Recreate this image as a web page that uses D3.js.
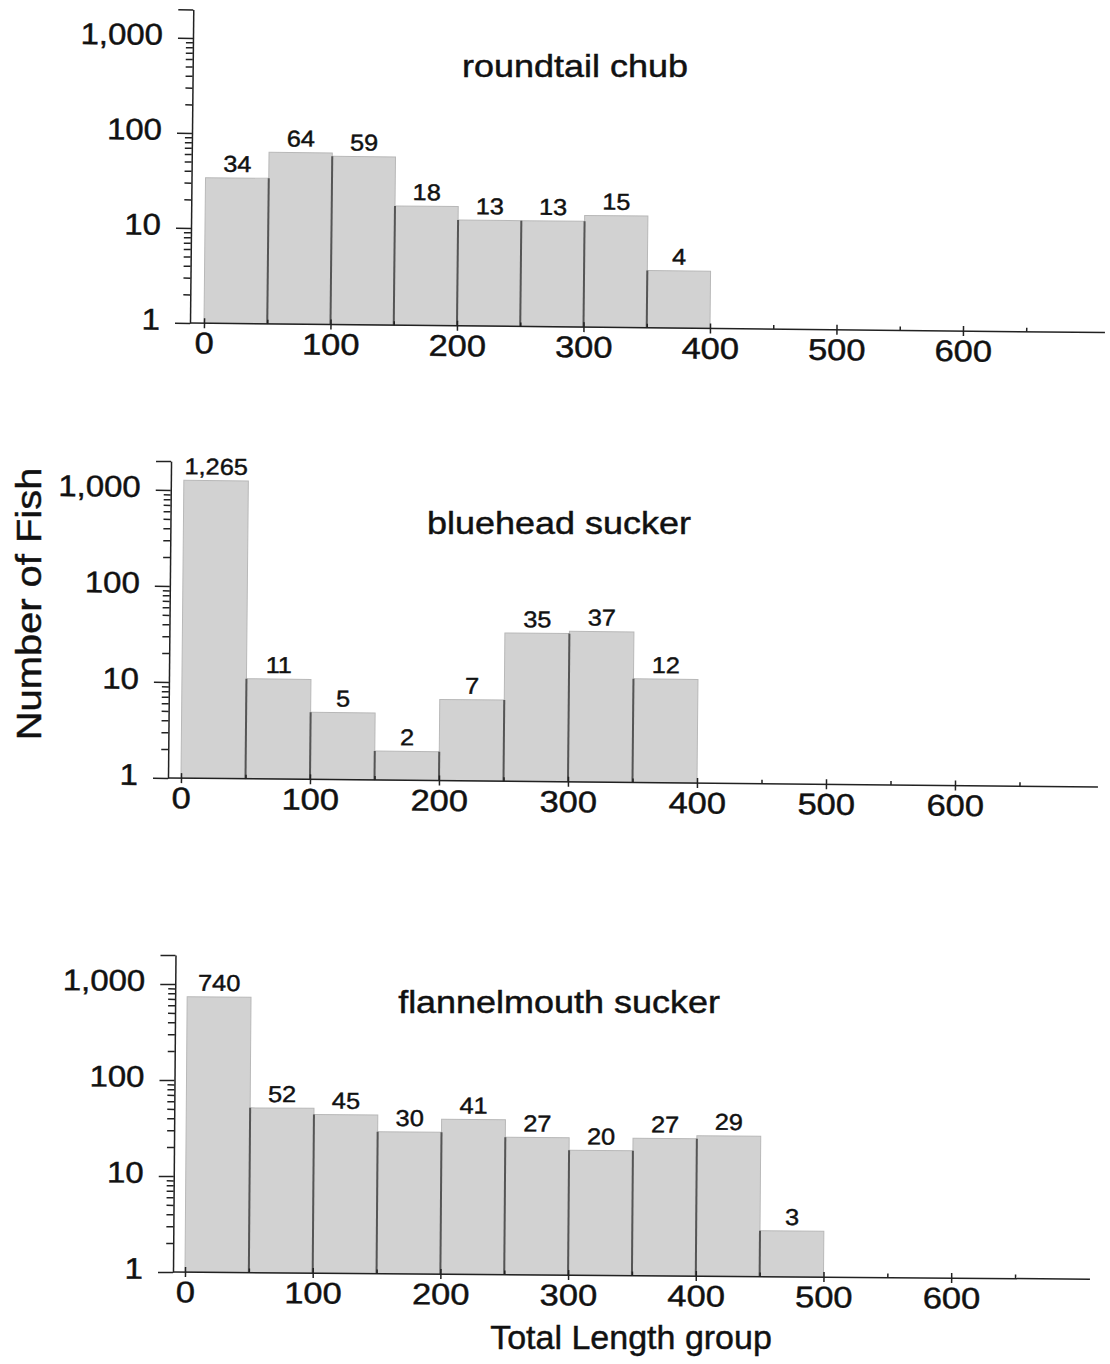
<!DOCTYPE html>
<head>
<meta charset="utf-8">
<style>
body {
  margin: 0;
  background: #fff;
}
svg text {
  font-family: "Liberation Sans", Arial, Helvetica, sans-serif;
  fill: #111;
  stroke: #111;
  stroke-width: 0.45px;
}
.bar {
  fill: #d2d2d2;
  stroke: #b8b8b8;
  stroke-width: 1;
}
.edge {
  stroke: #555;
  stroke-width: 2;
}
.axis {
  color: #222;
}
.axis line, .baseline {
  stroke: #222;
  stroke-width: 1.5;
}
.axis text {
  font-size: 30px;
}
.value {
  font-size: 23px;
}
.title {
  font-size: 31px;
}
.axtitle {
  font-size: 34px;
}
</style>
</head>
<body>
<svg id="chart" width="1110" height="1364"></svg>
<script src="https://d3js.org/d3.v7.min.js"></script>
<script>
// length groups (lower edge of each 50 mm bin)
var lengthGroups = [0, 50, 100, 150, 200, 250, 300, 350, 400, 450];
var binWidth = 50;

var species = ["roundtail chub", "bluehead sucker", "flannelmouth sucker"];
var roundtailCounts = [34, 64, 59, 18, 13, 13, 15, 4];
var blueheadCounts = [1265, 11, 5, 2, 7, 35, 37, 12];
var flannelmouthCounts = [740, 52, 45, 30, 41, 27, 20, 27, 29, 3];

var yTicks = [1, 10, 100, 1000];
var yTop = 2000;
var xTicks = [0, 100, 200, 300, 400, 500, 600];
var xMinorTicks = [50, 150, 250, 350, 450, 550, 650];
var xMax = 700;

// where each panel sits on the page (scan is a bit tilted)
var panels = [
  {name: species[0], counts: roundtailCounts, axisX: 190, x0: 204, k: 1.265, xEnd: 1105, base: 323, decade: 95, tilt: 0.6, titleX: 575, titleY: 77},
  {name: species[1], counts: blueheadCounts, axisX: 168, x0: 181, k: 1.29, xEnd: 1098, base: 778, decade: 96, tilt: 0.55, titleX: 559, titleY: 534},
  {name: species[2], counts: flannelmouthCounts, axisX: 173, x0: 185, k: 1.277, xEnd: 1090, base: 1272, decade: 96, tilt: 0.45, titleX: 559, titleY: 1013}
];

var svg = d3.select("#chart");
var fmt = d3.format(",");

panels.forEach(function(p) {
  var x = d3.scaleLinear()
    .domain([0, xMax])
    .range([p.x0, p.x0 + xMax * p.k]);

  var y = d3.scaleLog()
    .domain([1, yTop])
    .range([p.base, p.base - p.decade * Math.log10(yTop)]);

  var g = svg.append("g")
    .attr("transform", "rotate(" + p.tilt + "," + p.axisX + "," + p.base + ")");

  var bins = p.counts.map(function(c, i) { return {lo: lengthGroups[i], n: c}; });

  // bars
  g.selectAll(".bar").data(bins).enter().append("rect")
    .attr("class", "bar")
    .attr("x", function(d) { return x(d.lo); })
    .attr("width", function(d) { return x(d.lo + binWidth) - x(d.lo); })
    .attr("y", function(d) { return y(d.n); })
    .attr("height", function(d) { return y(1) - y(d.n); });

  // darker shared edges between neighbouring bars
  g.selectAll(".edge").data(bins.slice(1)).enter().append("line")
    .attr("class", "edge")
    .attr("x1", function(d) { return x(d.lo); })
    .attr("x2", function(d) { return x(d.lo); })
    .attr("y1", y(1))
    .attr("y2", function(d, i) { return y(Math.min(d.n, bins[i].n)); });

  // count labels
  g.selectAll(".value").data(bins).enter().append("text")
    .attr("class", "value")
    .attr("text-anchor", "middle")
    .attr("transform", function(d) {
      return "translate(" + x(d.lo + binWidth / 2) + "," + (y(d.n) - 6) + ") scale(1.1,1)";
    })
    .text(function(d) { return fmt(d.n); });

  // x axis
  g.append("line")
    .attr("class", "baseline")
    .attr("x1", p.axisX).attr("x2", p.xEnd)
    .attr("y1", y(1)).attr("y2", y(1));

  var xa = g.append("g")
    .attr("class", "axis")
    .attr("transform", "translate(0," + y(1) + ")")
    .call(d3.axisBottom(x).tickValues(xTicks).tickSize(5).tickSizeOuter(0).tickPadding(4));
  xa.select(".domain").remove();
  xa.selectAll(".tick line").attr("y1", -5);
  xa.selectAll(".tick text").attr("transform", "scale(1.15,1)");

  var xm = g.append("g")
    .attr("class", "axis")
    .attr("transform", "translate(0," + y(1) + ")")
    .call(d3.axisBottom(x).tickValues(xMinorTicks).tickSize(-4).tickSizeOuter(0).tickFormat(""));
  xm.select(".domain").remove();

  // y axis
  var ya = g.append("g")
    .attr("class", "axis")
    .attr("transform", "translate(" + p.axisX + ",0)")
    .call(d3.axisLeft(y)
      .tickValues(yTicks.concat([yTop]))
      .tickSize(15).tickSizeOuter(0).tickPadding(15)
      .tickFormat(function(d) { return d === yTop ? "" : fmt(d); }));
  ya.select(".domain").style("stroke-width", 1.5);
  ya.selectAll(".tick text")
    .attr("x", null)
    .attr("dy", "0.22em")
    .attr("transform", "translate(-30,0) scale(1.1,1)");

  g.append("g")
    .attr("class", "axis")
    .attr("transform", "translate(" + p.axisX + ",0)")
    .call(d3.axisLeft(y)
      .tickValues(y.ticks().filter(function(t) { return yTicks.indexOf(t) < 0 && t < yTop; }))
      .tickSize(7).tickSizeOuter(0).tickFormat(""))
    .select(".domain").remove();

  // species name
  svg.append("text")
    .attr("class", "title")
    .attr("text-anchor", "middle")
    .attr("transform", "translate(" + p.titleX + "," + p.titleY + ") scale(1.16,1)")
    .text(p.name);
});

svg.append("text")
  .attr("class", "axtitle")
  .attr("text-anchor", "middle")
  .attr("transform", "translate(41,604) rotate(-90) scale(1.14,1)")
  .style("font-size", "35px")
  .text("Number of Fish");

svg.append("text")
  .attr("class", "axtitle")
  .attr("text-anchor", "middle")
  .attr("transform", "translate(631,1349)")
  .text("Total Length group");
</script>
</body>
